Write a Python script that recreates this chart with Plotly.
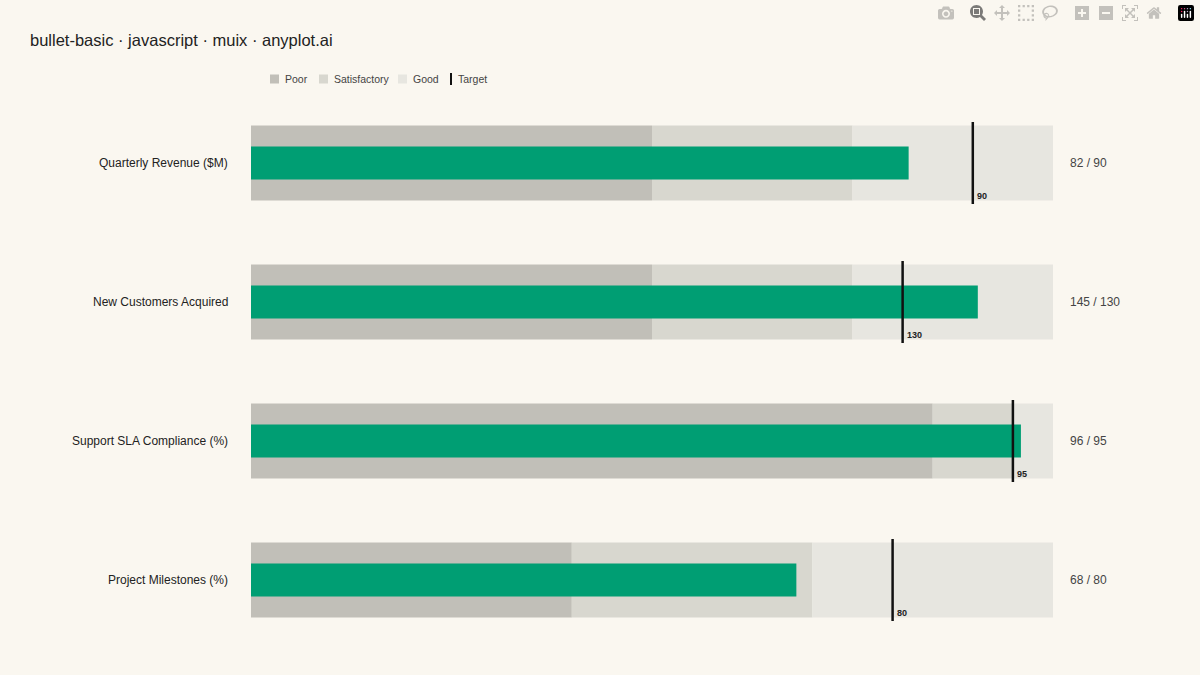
import plotly.graph_objects as go

metrics = ["Quarterly Revenue ($M)", "New Customers Acquired", "Support SLA Compliance (%)", "Project Milestones (%)"]
values = [82, 145, 96, 68]
targets = [90, 130, 95, 80]
poor = [50, 80, 85, 40]
satisfactory = [75, 120, 95, 70]
good = [100, 160, 100, 100]
legend_names = ["Poor", "Satisfactory", "Good", "Target"]

band_colors = {"Poor": "#c1bfb8", "Satisfactory": "#d8d7cf", "Good": "#e7e6e0"}
W, H = 1200, 675
centers = [163, 302, 441, 580]

fig = go.Figure()
for i, m in enumerate(metrics):
    ax = "" if i == 0 else str(i + 1)
    xa, ya = "x" + ax, "y" + ax
    lo = 0
    for name, hi in [("Poor", poor[i]), ("Satisfactory", satisfactory[i]), ("Good", good[i])]:
        fig.add_trace(go.Bar(x=[hi - lo], base=[lo], y=[0], orientation="h", width=1.5,
                             marker=dict(color=band_colors[name], line=dict(width=0)),
                             name=name, showlegend=False,
                             xaxis=xa, yaxis=ya, hoverinfo="skip"))
        lo = hi
    fig.add_trace(go.Bar(x=[values[i]], base=[0], y=[0], orientation="h", width=0.66,
                         marker=dict(color="#009e73", line=dict(width=0)), showlegend=False,
                         xaxis=xa, yaxis=ya))
    fig.add_trace(go.Scatter(x=[targets[i], targets[i]], y=[-0.82, 0.82], mode="lines",
                             line=dict(color="#111111", width=2.5), name="Target",
                             showlegend=False, xaxis=xa, yaxis=ya))
    fig.add_annotation(x=targets[i], y=-0.8, xref=xa, yref=ya, text="<b>%d</b>" % targets[i],
                       showarrow=False, xanchor="left", yanchor="bottom", xshift=2,
                       font=dict(size=9, color="#222222"))
    c = centers[i]
    dom = [(H - c - 50) / H, (H - c + 50) / H]
    fig.update_layout(**{
        "xaxis" + ax: dict(domain=[251 / W, 1053 / W], range=[0, good[i]], visible=False, anchor=ya),
        "yaxis" + ax: dict(domain=dom, range=[-1, 1], visible=False, anchor=xa),
    })
    fig.add_annotation(x=230 / W, y=0, xref="paper", yref=ya, text=m,
                       showarrow=False, xanchor="right", yanchor="middle",
                       font=dict(size=12, color="#222222"))
    fig.add_annotation(x=1068 / W, y=0, xref="paper", yref=ya,
                       text="%d / %d" % (values[i], targets[i]),
                       showarrow=False, xanchor="left", yanchor="middle",
                       font=dict(size=12, color="#444444"))

# manual legend
leg_x = [270, 319, 398, 451]
ly = 1 - 79 / H
for name, px in zip(legend_names, leg_x):
    if name == "Target":
        fig.add_shape(type="line", xref="paper", yref="paper", x0=px / W, x1=px / W,
                      y0=ly - 6 / H, y1=ly + 6 / H, line=dict(color="#111111", width=2))
        tx = px + 5
    else:
        fig.add_shape(type="rect", xref="paper", yref="paper", x0=px / W, x1=(px + 9) / W,
                      y0=ly - 4.5 / H, y1=ly + 4.5 / H, fillcolor=band_colors[name],
                      line=dict(width=0) if name != "Poor" else dict(width=0))
        tx = px + 13
    fig.add_annotation(x=tx / W, y=ly, xref="paper", yref="paper", text=name, showarrow=False,
                       xanchor="left", yanchor="middle", font=dict(size=10.5, color="#444444"))

fig.update_layout(
    width=W, height=H, margin=dict(l=0, r=0, t=0, b=0),
    paper_bgcolor="#faf7f0", plot_bgcolor="#faf7f0", barmode="overlay", showlegend=False,
    font=dict(family="Liberation Sans, Arial, sans-serif"),
    title=dict(text="bullet-basic · javascript · muix · anyplot.ai", x=30 / W, y=1 - 40 / H,
               xanchor="left", yanchor="middle", font=dict(size=16.5, color="#222222")),
)
fig.write_html("out.html", post_script="document.body.style.margin='0';document.body.style.background='#faf7f0';")
